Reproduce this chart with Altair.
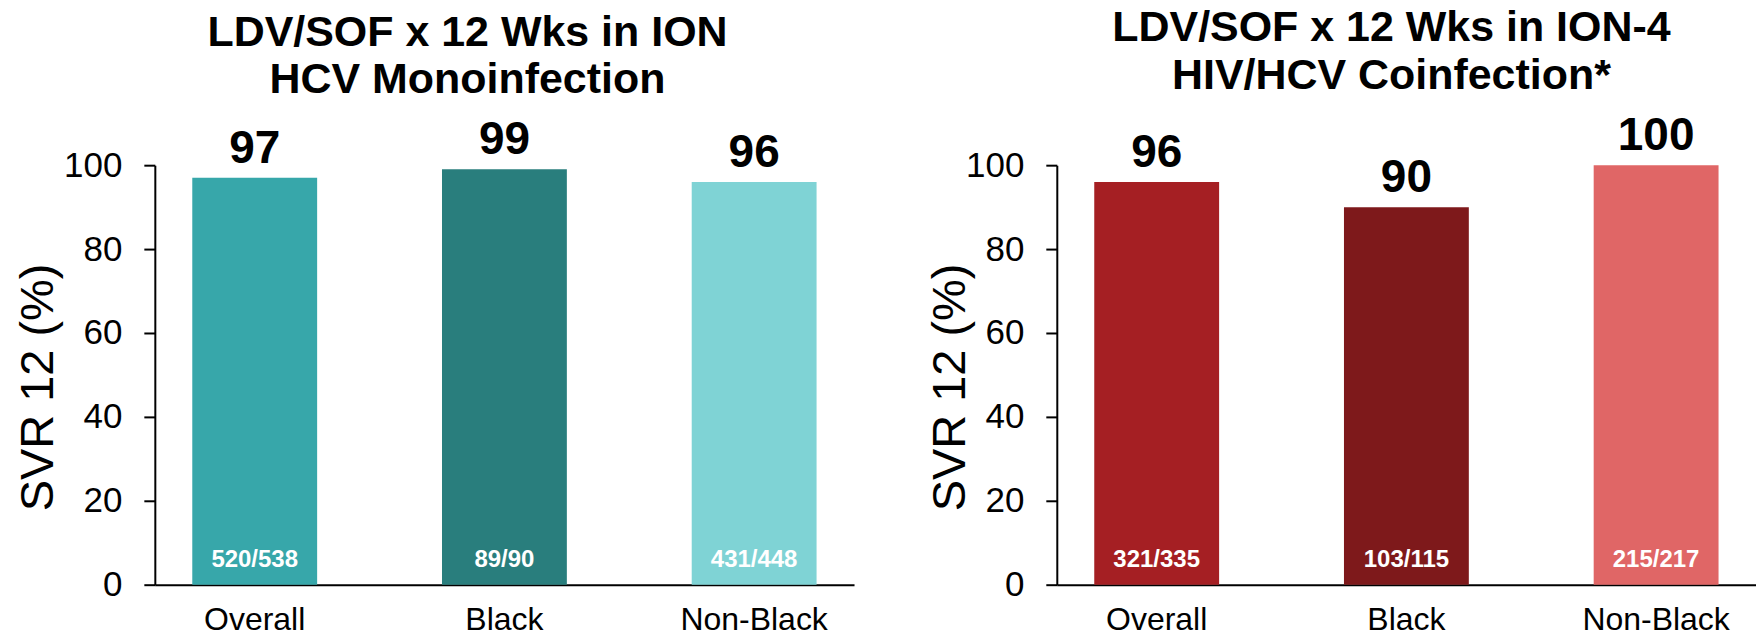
import altair as alt
import pandas as pd

# Categories and SVR12 results for the two studies
groups = ["Overall", "Black", "Non-Black"]

ion_svr = [97, 99, 96]
ion_counts = ["520/538", "89/90", "431/448"]
ion_colors = ["#37A7AA", "#297E7D", "#7FD3D5"]

ion4_svr = [96, 90, 100]
ion4_counts = ["321/335", "103/115", "215/217"]
ion4_colors = ["#A51F23", "#7E191B", "#E06666"]

FONT = "Liberation Sans"
PLOT_W = 700
PLOT_H = 420


def panel(values, counts, colors, title_lines, title_dx, ytitle_x):
    df = pd.DataFrame({"group": groups, "svr": values, "count": counts})

    x = alt.X(
        "group:N",
        sort=groups,
        scale=alt.Scale(paddingInner=0.5, paddingOuter=0.15),
        axis=alt.Axis(
            title=None,
            labelAngle=0,
            labelFont=FONT,
            labelFontSize=32,
            labelColor="black",
            labelPadding=20,
            ticks=False,
            tickSize=0,
            domainColor="black",
            domainWidth=2,
        ),
    )
    y = alt.Y(
        "svr:Q",
        scale=alt.Scale(domain=[0, 100], nice=False),
        axis=alt.Axis(
            title="SVR 12 (%)",
            values=[0, 20, 40, 60, 80, 100],
            grid=False,
            labelFont=FONT,
            labelFontSize=35,
            labelColor="black",
            labelPadding=22,
            tickSize=11,
            tickWidth=2,
            tickColor="black",
            domainColor="black",
            domainWidth=2,
            titleFont=FONT,
            titleFontSize=47,
            titleFontWeight="normal",
            titleColor="black",
            titleX=ytitle_x,
            titleY=222,
            titleAngle=-90,
            titleAlign="center",
            titleBaseline="middle",
        ),
    )

    bars = alt.Chart(df).mark_bar().encode(
        x=x,
        y=y,
        color=alt.Color("group:N", sort=groups,
                        scale=alt.Scale(domain=groups, range=colors),
                        legend=None),
    )
    top_text = alt.Chart(df).mark_text(
        font=FONT, fontSize=46, fontWeight="bold", color="black",
        baseline="alphabetic", dy=-15,
    ).encode(x=alt.X("group:N", sort=groups), y="svr:Q", text="svr:Q")
    inner_text = alt.Chart(df).mark_text(
        font=FONT, fontSize=24, fontWeight="bold", color="white",
        baseline="alphabetic", dy=-18,
    ).encode(x=alt.X("group:N", sort=groups), y=alt.datum(0), text="count:N")

    return alt.layer(bars, top_text, inner_text).properties(
        width=PLOT_W,
        height=PLOT_H,
        title=alt.TitleParams(
            text=title_lines,
            font=FONT,
            fontSize=43,
            fontWeight="bold",
            color="black",
            anchor="middle",
            frame="group",
            dx=title_dx,
            offset=15,
            lineHeight=48,
        ),
    )


left = panel(ion_svr, ion_counts, ion_colors,
             ["LDV/SOF x 12 Wks in ION", "HCV Monoinfection"], -37, -116)
right = panel(ion4_svr, ion4_counts, ion4_colors,
              ["LDV/SOF x 12 Wks in ION-4", "HIV/HCV Coinfection*"], -15, -106)

chart = alt.hconcat(left, right, spacing=73).properties(
    padding={"left": 14, "top": 7, "right": 0, "bottom": 0},
    background="white",
).configure_view(stroke=None).resolve_scale(color="independent")

chart.save("out.html", embed_options={"renderer": "svg", "actions": False})
